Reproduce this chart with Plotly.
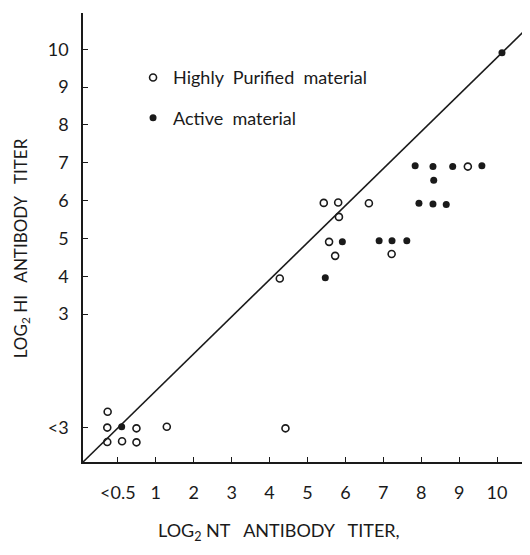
import plotly.graph_objects as go

# ---- data (log2 titers) ----
pure_nt = [-0.27, -0.28, -0.28, 0.49, 0.11, 0.49, 1.29, 4.42, 4.27,
           5.43, 5.81, 6.62, 5.83, 5.57, 5.73, 7.22, 9.23]
pure_hi = [0.42, 0.00, -0.38, -0.02, -0.36, -0.39, 0.02, -0.02, 3.94,
           5.94, 5.95, 5.93, 5.57, 4.91, 4.54, 4.59, 6.90]

active_nt = [0.10, 5.47, 5.92, 6.89, 7.23, 7.62, 7.94, 8.31, 8.66,
             8.33, 7.84, 8.31, 8.83, 9.60, 10.13]
active_hi = [0.02, 3.96, 4.91, 4.94, 4.94, 4.94, 5.93, 5.91, 5.90,
             6.54, 6.92, 6.90, 6.90, 6.92, 9.91]

# equality line
line_x = [-0.92, 10.69]
line_y = [-0.91, 10.46]

x_tickvals = [0, 1, 2, 3, 4, 5, 6, 7, 8, 9, 10]
x_ticktext = ["&lt;0.5", "1", "2", "3", "4", "5", "6", "7", "8", "9", "10"]
y_tickvals = [0, 3, 4, 5, 6, 7, 8, 9, 10]
y_ticktext = ["&lt;3", "3", "4", "5", "6", "7", "8", "9", "10"]

FONT = "Lato"
INK = "#1a1a1a"

fig = go.Figure()

fig.add_trace(go.Scatter(
    x=line_x, y=line_y, mode="lines",
    line=dict(color=INK, width=1.6), showlegend=False, hoverinfo="skip"))

fig.add_trace(go.Scatter(
    x=pure_nt, y=pure_hi, mode="markers", name="Highly  Purified  material",
    legendgroup="a",
    marker=dict(symbol="circle-open", size=7, color=INK, line=dict(width=1.6))))

fig.add_trace(go.Scatter(
    x=active_nt, y=active_hi, mode="markers", name="Active  material",
    legendgroup="b",
    marker=dict(symbol="circle", size=7, color=INK)))

fig.update_layout(
    width=530, height=555,
    margin=dict(l=75, r=0, t=5, b=101),
    paper_bgcolor="white", plot_bgcolor="white",
    font=dict(family=FONT, color=INK, size=16),
    showlegend=True,
    legend=dict(x=0.11, y=0.897, xanchor="left", yanchor="top",
                bgcolor="rgba(0,0,0,0)", font=dict(size=18, family=FONT),
                tracegroupgap=14, itemwidth=30),
    xaxis=dict(range=[-0.92, 11.08], tickmode="array", tickvals=x_tickvals,
               ticktext=x_ticktext, showgrid=False, zeroline=False,
               showline=True, linecolor=INK, linewidth=1.5,
               ticks="inside", ticklen=5, tickcolor=INK, tickwidth=1.2,
               ticklabelstandoff=14, tickfont=dict(size=18, family=FONT)),
    yaxis=dict(range=[-0.91, 10.96], tickmode="array", tickvals=y_tickvals,
               ticktext=y_ticktext, showgrid=False, zeroline=False,
               showline=True, linecolor=INK, linewidth=1.5,
               ticks="inside", ticklen=5, tickcolor=INK, tickwidth=1.2,
               ticklabelstandoff=9, tickfont=dict(size=18, family=FONT)),
    annotations=[
        dict(text="LOG<sub>2</sub> HI   ANTIBODY   TITER", textangle=-90,
             xref="paper", yref="paper", x=-0.135, y=0.475,
             xanchor="center", yanchor="middle", showarrow=False,
             font=dict(size=17, family=FONT)),
        dict(text="LOG<sub>2</sub> NT   ANTIBODY   TITER,",
             xref="paper", yref="paper", x=0.43, y=-0.155,
             xanchor="center", yanchor="middle", showarrow=False,
             font=dict(size=18, family=FONT)),
    ],
)

fig.write_html("out.html")
